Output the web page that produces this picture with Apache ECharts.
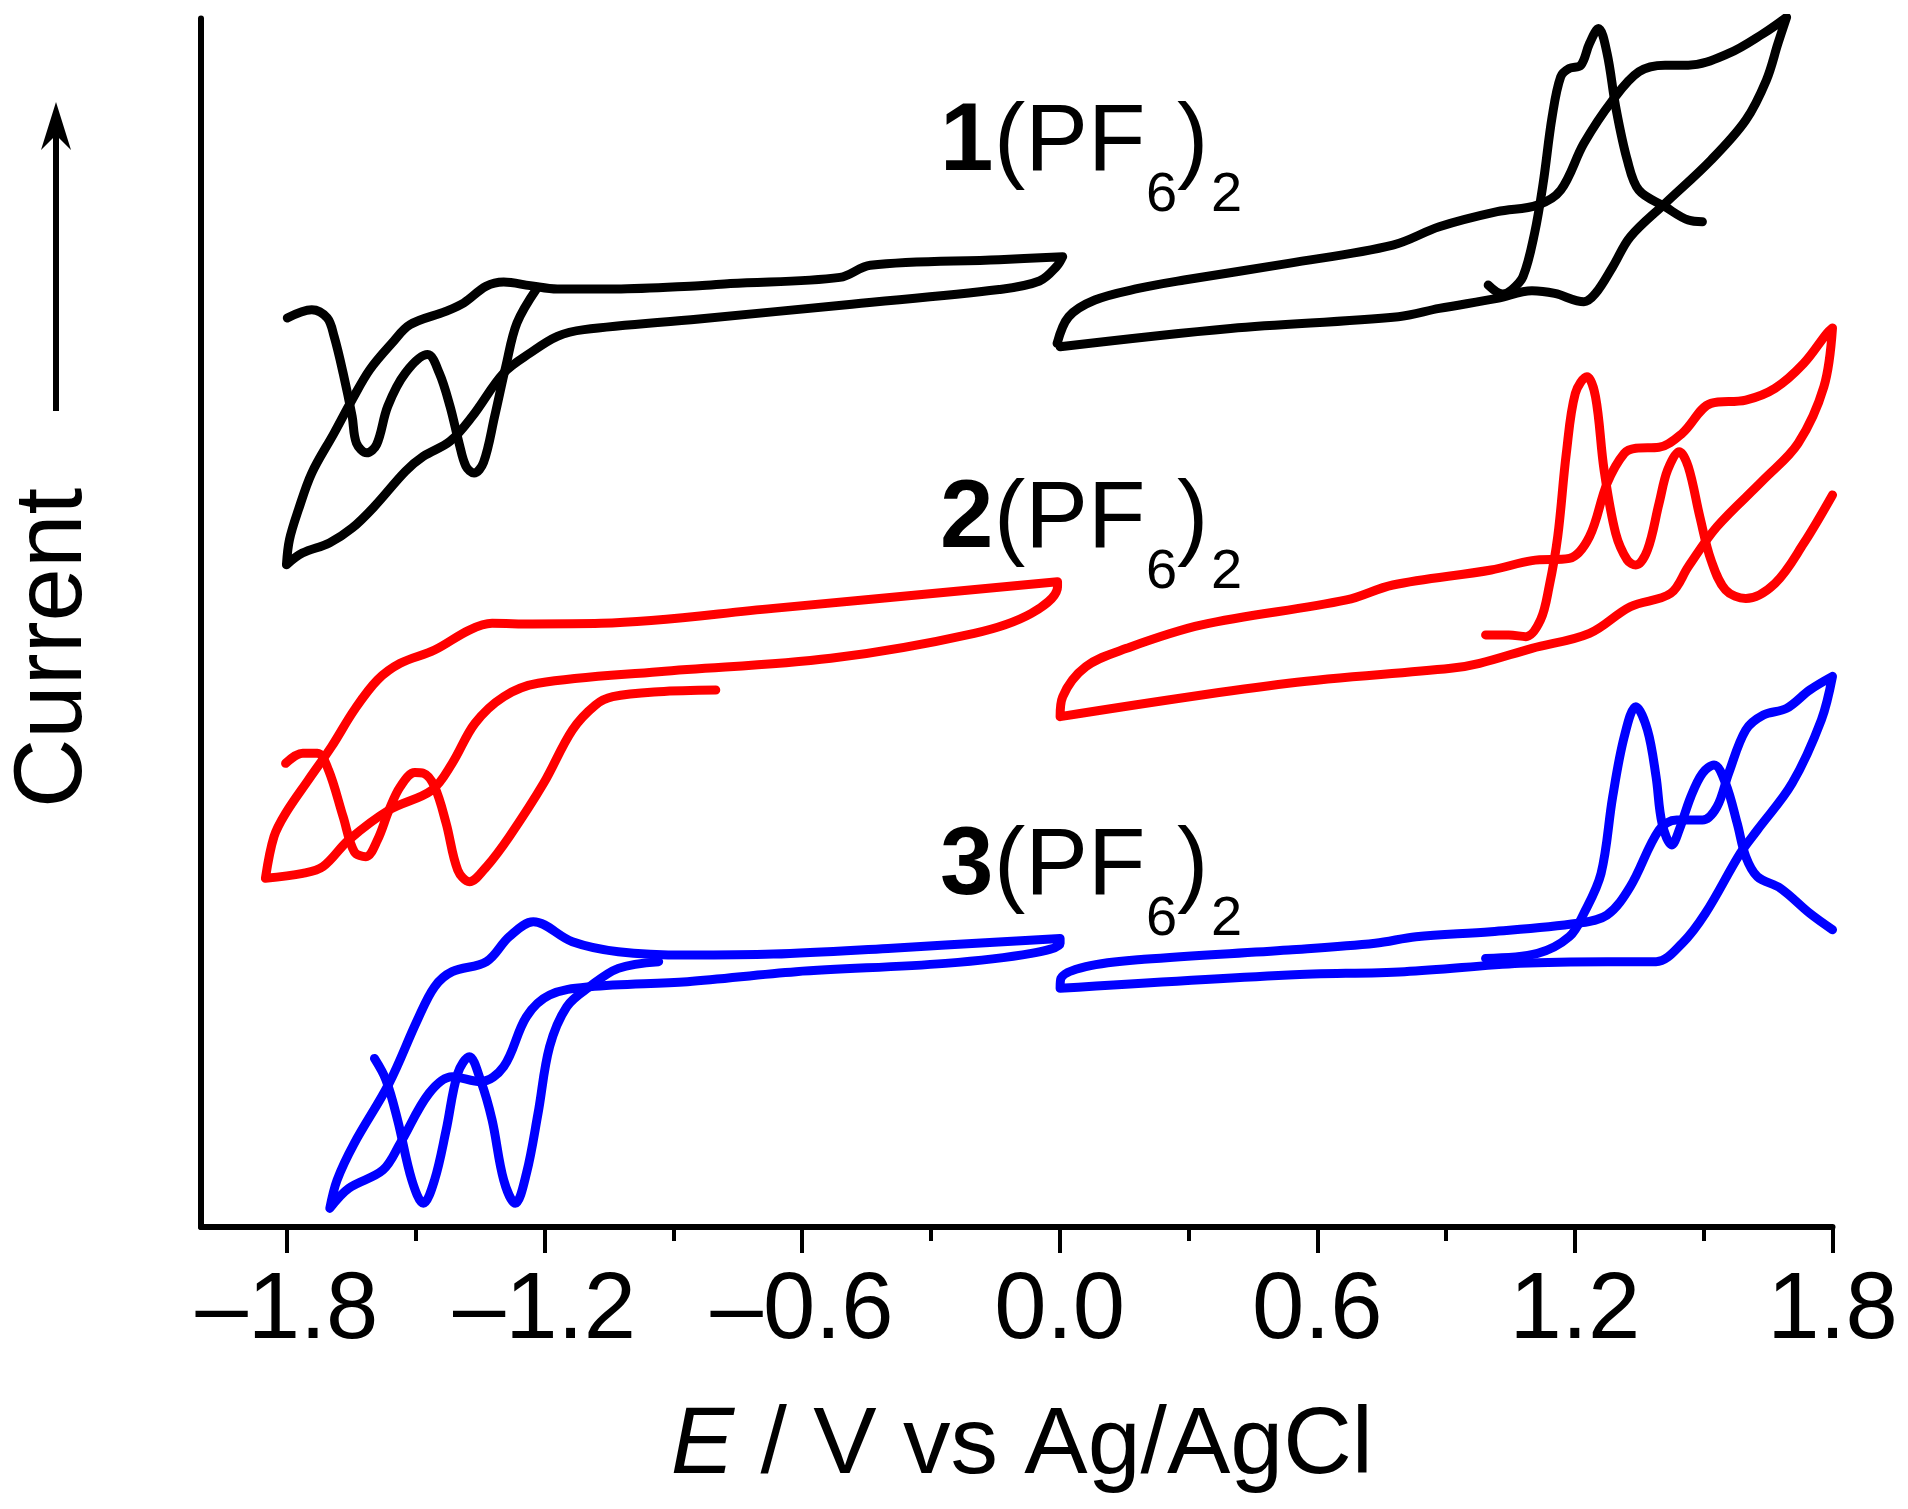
<!DOCTYPE html>
<html>
<head>
<meta charset="utf-8">
<style>html,body{margin:0;background:#fff}#chart{width:1908px;height:1509px}</style>
<script src="https://cdn.jsdelivr.net/npm/echarts@6/dist/echarts.min.js"></script>
</head>
<body>
<div id="chart"></div>
<script>
// axis ticks
var majorTicks = [-1.8, -1.2, -0.6, 0, 0.6, 1.2, 1.8];
var minorTicks = [-1.5, -0.9, -0.3, 0.3, 0.9, 1.5];

// compound 1, black
var blackCvNegE = [0.007,-0.141,-0.441,-0.512,-0.767,-0.840,-1.035,-1.170,-1.233,-1.295,-1.336,-1.388,-1.430,-1.513,-1.555,-1.607,-1.648,-1.690,-1.742,-1.773,-1.794,-1.801,-1.764,-1.701,-1.648,-1.596,-1.524,-1.482,-1.420,-1.368,-1.295,-1.233,-1.170,-1.108,-0.840,-0.484,-0.141,-0.047,-0.007,0.007];
var blackCvNegI = [796.5,794,789.5,779.5,774.5,772.7,770,770,772.7,775.7,772.2,758.5,751.6,740.7,725.6,703.7,679.1,651.7,618.9,588.8,564.1,543.6,553.2,561.5,573.7,591.5,620.2,632.6,644.9,665.5,701,717.5,731.1,736.6,745.4,757.5,769.5,776.5,788.5,796.5];
var blackDpvNegE = [-1.799,-1.742,-1.706,-1.690,-1.669,-1.648,-1.638,-1.614,-1.591,-1.565,-1.524,-1.472,-1.445,-1.420,-1.399,-1.383,-1.364,-1.342,-1.316,-1.290,-1.264,-1.217];
var blackDpvNegI = [746.2,753,746.2,731.1,701,665.5,643.5,635.5,642.2,673.7,701,716.1,701,673.7,643.5,624.5,618.9,627.5,665.5,706.5,742.1,770.8];
var blackCvPosE = [-0.006,0.021,0.082,0.183,0.290,0.533,0.776,0.884,1.019,1.113,1.167,1.221,1.288,1.349,1.410,1.464,1.558,1.639,1.693,1.673,1.646,1.598,1.517,1.410,1.329,1.288,1.248,1.221,1.153,1.100,1.019,0.884,0.789,0.398,0.001];
var blackCvPosI = [725.3,747.2,760.9,770.4,777.3,791,806,821,833.4,838.8,851.1,889.5,925,948.3,953.7,953.7,963.3,979.7,993,971.5,941.4,908.6,875.8,840.2,812.8,788.2,766.3,759.5,766.3,768.5,762.2,754,747.2,737.6,722.6];
var blackDpvPosE = [0.998,1.032,1.052,1.079,1.106,1.126,1.147,1.167,1.187,1.214,1.234,1.255,1.275,1.295,1.322,1.349,1.410,1.464,1.497];
var blackDpvPosI = [773.2,765.8,769,780,815.6,856.6,911.3,944.2,951,953.7,971.5,983.8,963.3,919.5,875.8,851.1,837.5,826.5,825.2];

// compound 2, red
var redCvNegE = [-0.005,-0.667,-1.068,-1.228,-1.322,-1.375,-1.456,-1.536,-1.589,-1.643,-1.696,-1.750,-1.803,-1.830,-1.850,-1.763,-1.716,-1.656,-1.562,-1.462,-1.415,-1.362,-1.295,-1.215,-0.934,-0.533,-0.199,-0.066,-0.005,-0.005];
var redCvNegI = [529.7,507.8,495.5,495,495.5,490,473.6,462.7,449,424.4,394.3,366.9,339.5,320.4,286.2,290.3,295.8,317.7,342.3,358.7,380.6,413.4,435.3,446.3,455.8,466.8,487.3,503.7,525.6,529.7];
var redDpvNegE = [-0.801,-0.934,-1.041,-1.081,-1.135,-1.202,-1.282,-1.335,-1.375,-1.402,-1.429,-1.456,-1.482,-1.502,-1.536,-1.562,-1.589,-1.616,-1.643,-1.669,-1.703,-1.729,-1.763,-1.803];
var redDpvNegI = [440.8,439.4,435.3,428.5,408,364.2,320.4,295.8,283.5,293,331.3,361.4,372.4,373,361.4,342.3,317.7,304,308.1,336.8,375.1,388.8,388.8,380.6];
var redCvPosE = [0.001,0.007,0.061,0.156,0.331,0.668,0.776,1.005,1.100,1.187,1.234,1.275,1.315,1.342,1.396,1.450,1.517,1.598,1.666,1.733,1.787,1.800,1.780,1.720,1.639,1.531,1.464,1.423,1.329,1.234,1.100,0.978,0.911,0.533,0.001];
var redCvPosI = [418.9,435.3,460,475,494.2,514.7,527,539.3,547,548.9,566.7,610.4,635,639.2,640,651.5,676.1,678.8,688.4,708.9,733.6,738,689.8,643.3,613.2,574.9,542,520.1,509.2,487.3,475,462.7,458.6,446.3,418.9];
var redDpvPosE = [0.992,1.046,1.086,1.120,1.140,1.160,1.180,1.201,1.228,1.248,1.268,1.295,1.322,1.342,1.369,1.396,1.416,1.443,1.464,1.491,1.517,1.551,1.598,1.666,1.733,1.800];
var redDpvPosI = [486,486,484.6,498.3,525.6,566.7,635,684.3,698,681.6,621.4,569.4,547.5,543.4,555.7,594,621.4,636.4,624.1,583,547.5,522.9,516,528.3,561.2,600.9];

// compound 3, blue
var blueCvNegE = [0.001,-0.132,-0.400,-0.667,-0.867,-1.028,-1.135,-1.226,-1.282,-1.335,-1.415,-1.456,-1.496,-1.562,-1.643,-1.683,-1.700,-1.656,-1.576,-1.536,-1.469,-1.415,-1.349,-1.295,-1.242,-1.188,-1.095,-0.867,-0.614,-0.266,-0.066,0.001,0.001];
var blueCvNegI = [236.9,234.2,228.7,224,223.2,226,234.2,250.6,238.3,217.8,209.6,197.2,169.9,117.9,68.7,38.6,15.3,31.7,46.8,68.7,109.7,123.4,119.3,131.6,172.6,190.4,197.2,201.4,209.6,216.4,224.6,232.8,236.9];
var blueDpvNegE = [-0.934,-1.028,-1.095,-1.148,-1.188,-1.215,-1.242,-1.268,-1.295,-1.322,-1.349,-1.375,-1.402,-1.429,-1.456,-1.482,-1.509,-1.542,-1.569,-1.596];
var blueDpvNegI = [217.8,212.3,197.2,180.8,148,93.3,44,19.4,38.6,87.8,120.6,139.8,126.1,79.6,38.6,19.4,38.6,87.8,120.6,138.4];
var blueCvPosE = [0.001,0.003,0.061,0.196,0.533,0.735,0.830,1.005,1.207,1.275,1.329,1.396,1.437,1.497,1.531,1.558,1.598,1.639,1.693,1.747,1.800,1.774,1.706,1.625,1.585,1.504,1.450,1.389,1.275,1.072,0.803,0.533,0.001];
var blueCvPosI = [195.9,204.1,213.7,219.7,227.4,232.9,238.3,242.4,249.3,256.1,279.4,325.9,334.1,334.1,345,372.4,408,420.3,425.7,440.8,452,416.2,364.2,325.9,306.7,257.5,232.9,217.8,217.8,216.4,209.6,206.9,195.9];
var blueDpvPosE = [0.992,1.113,1.187,1.221,1.261,1.288,1.315,1.342,1.369,1.389,1.403,1.426,1.443,1.470,1.497,1.524,1.551,1.578,1.598,1.625,1.679,1.747,1.800];
var blueDpvPosI = [220.5,224.6,238.3,257.5,290.3,353.2,402.5,427.1,408,369.7,331.4,313.6,325.9,353.2,372.4,379.2,364.2,331.4,304,287.6,278,257.5,244];

var FONT = '"Liberation Sans", Arial, sans-serif';

function curve(name, color, es, is) {
  var points = [];
  for (var i = 0; i < es.length; i++) {
    points.push([es[i], is[i]]);
  }
  return {
    name: name,
    type: 'line',
    data: points,
    smooth: 0.35,
    symbol: 'none',
    animation: false,
    lineStyle: { color: color, width: 9, cap: 'round', join: 'round' }
  };
}

function text(str, x, y, size, weight) {
  return {
    type: 'text',
    x: x,
    y: y,
    style: { text: str, fontFamily: FONT, fontSize: size, fontWeight: weight || 'normal', fill: '#000', verticalAlign: 'bottom' }
  };
}

// one "n(PF6)2" label, y is the text bottom
function compoundLabel(num, y) {
  return [
    text(num, 940, y, 96, 'bold'),
    text('(PF', 994, y, 94),
    text('6', 1146, y + 32, 56),
    text(')', 1177, y, 94),
    text('2', 1211, y + 32, 56)
  ];
}

var chart = echarts.init(document.getElementById('chart'), null, { renderer: 'canvas' });

var axisX = {
  type: 'value',
  position: 'bottom',
  min: -2.0,
  max: 1.8,
  splitLine: { show: false }
};

chart.setOption({
  animation: false,
  backgroundColor: '#fff',
  grid: { left: 201, right: 75.5, top: 18.5, bottom: 282 },
  xAxis: [
    Object.assign({}, axisX, {
      axisLine: { show: true, onZero: false, lineStyle: { color: '#000', width: 6 } },
      axisTick: { show: true, length: 26, customValues: majorTicks, lineStyle: { color: '#000', width: 4 } },
      axisLabel: {
        customValues: majorTicks,
        margin: 38,
        fontFamily: FONT,
        fontSize: 94,
        color: '#000',
        formatter: function (v) { return Number(v).toFixed(1).replace('-', '\u2013'); }
      },
      name: '{i|E} / V vs Ag/AgCl',
      nameLocation: 'middle',
      nameGap: 172,
      nameTextStyle: {
        fontFamily: FONT,
        fontSize: 95,
        color: '#000',
        rich: { i: { fontFamily: FONT, fontSize: 95, fontStyle: 'italic', color: '#000', padding: [0, 0, 0, 10] } }
      }
    }),
    Object.assign({}, axisX, {
      axisLine: { show: false },
      axisTick: { show: true, length: 14, customValues: minorTicks, lineStyle: { color: '#000', width: 4 } },
      axisLabel: { show: false }
    })
  ],
  yAxis: {
    type: 'value',
    min: 0,
    max: 992,
    axisLine: { show: true, onZero: false, lineStyle: { color: '#000', width: 6 } },
    axisTick: { show: false },
    axisLabel: { show: false },
    splitLine: { show: false }
  },
  graphic: [
    // y axis caption and arrow
    { type: 'text', x: 55, y: 648, rotation: Math.PI / 2, style: { text: 'Current', fontFamily: FONT, fontSize: 96, fill: '#000', align: 'center', verticalAlign: 'middle' } },
    { type: 'line', shape: { x1: 56, y1: 411, x2: 56, y2: 130 }, style: { stroke: '#000', lineWidth: 6 } },
    { type: 'polygon', shape: { points: [[56, 102], [71, 150], [56, 135], [41, 150]] }, style: { fill: '#000' } }
  ].concat(compoundLabel('1', 191.5), compoundLabel('2', 568.5), compoundLabel('3', 915.5)),
  series: [
    curve('1 CV negative', '#000', blackCvNegE, blackCvNegI),
    curve('1 DPV negative', '#000', blackDpvNegE, blackDpvNegI),
    curve('1 CV positive', '#000', blackCvPosE, blackCvPosI),
    curve('1 DPV positive', '#000', blackDpvPosE, blackDpvPosI),
    curve('2 CV negative', '#f00', redCvNegE, redCvNegI),
    curve('2 DPV negative', '#f00', redDpvNegE, redDpvNegI),
    curve('2 CV positive', '#f00', redCvPosE, redCvPosI),
    curve('2 DPV positive', '#f00', redDpvPosE, redDpvPosI),
    curve('3 CV negative', '#00f', blueCvNegE, blueCvNegI),
    curve('3 DPV negative', '#00f', blueDpvNegE, blueDpvNegI),
    curve('3 CV positive', '#00f', blueCvPosE, blueCvPosI),
    curve('3 DPV positive', '#00f', blueDpvPosE, blueDpvPosI)
  ]
});
</script>
</body>
</html>
